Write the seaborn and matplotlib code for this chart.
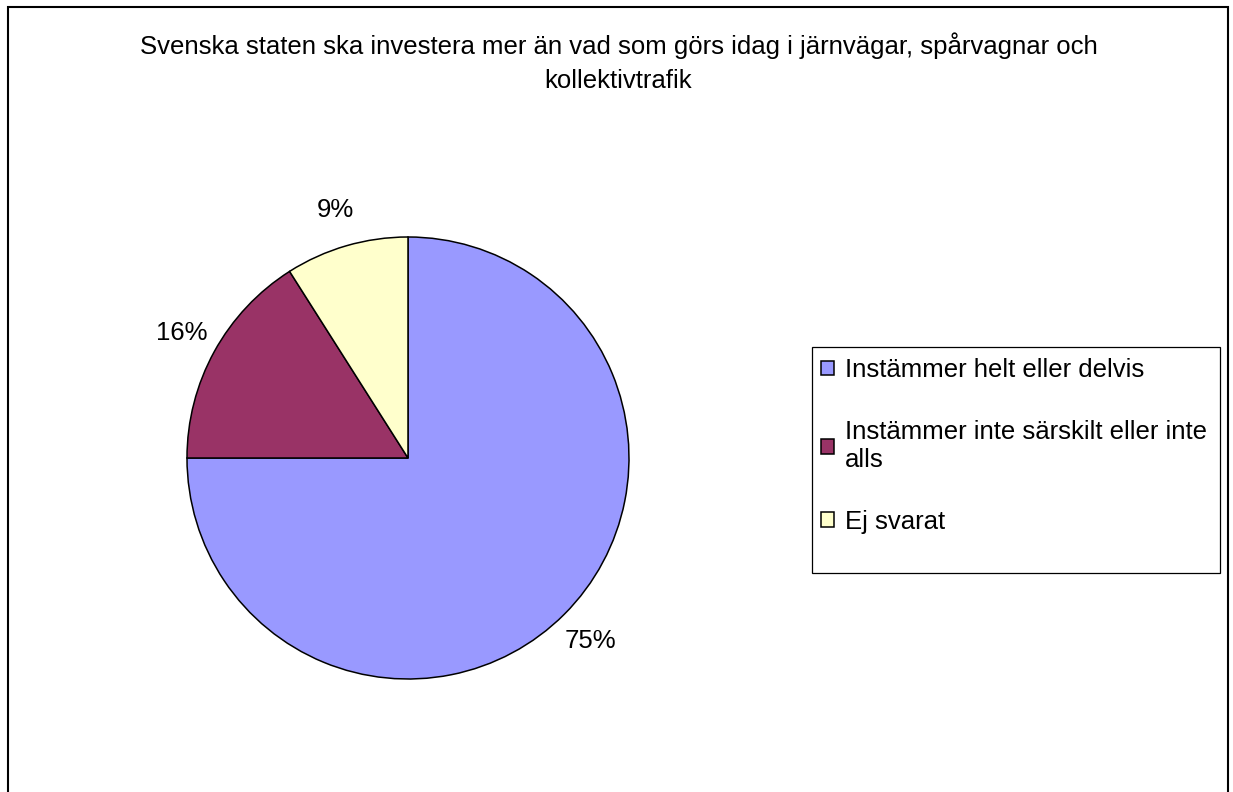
import matplotlib
matplotlib.use("Agg")
import matplotlib.pyplot as plt
from matplotlib.patches import Rectangle
import seaborn as sns

# Plot settings
sns.set_theme(style="white")
plt.rcParams['font.family'] = ['Liberation Sans', 'DejaVu Sans']
plt.rcParams['text.color'] = 'black'

# Data
title = "Svenska staten ska investera mer än vad som görs idag i järnvägar, spårvagnar och\nkollektivtrafik"
labels = ["Instämmer helt eller delvis",
          "Instämmer inte särskilt eller inte\nalls",
          "Ej svarat"]
shares = [75, 16, 9]
colors = ["#9999FF", "#993366", "#FFFFCC"]

W, H = 1233, 792
FS = 18.5
fig = plt.figure(figsize=(W / 100, H / 100), dpi=100)
fig.patch.set_facecolor("white")

# pie axes: centre (408, 458), radius 221 px
r = 221
ax = fig.add_axes([(408 - r) / W, 1 - (458 + r) / H, 2 * r / W, 2 * r / H])
wedges, _, autotexts = ax.pie(
    shares, colors=colors, startangle=90, counterclock=False,
    autopct='%.0f%%', pctdistance=1.17,
    wedgeprops=dict(edgecolor="black", linewidth=1.1),
    textprops=dict(fontsize=FS, color="black"),
)
ax.set_xlim(-1, 1)
ax.set_ylim(-1, 1)
ax.set_aspect("equal")
ax.axis("off")

# title
fig.text(618.5 / W, 1 - 32 / H, title, ha="center", va="top",
         fontsize=FS, linespacing=1.55, color="black")

# legend with its own box
leg = fig.legend(wedges, labels, loc="upper left",
                 bbox_to_anchor=(821 / W, 1 - 358 / H),
                 frameon=False, fontsize=FS, labelcolor="black",
                 handlelength=0.5, handleheight=0.5, handletextpad=0.43,
                 labelspacing=1.48, borderpad=0, borderaxespad=0)
for h in leg.legend_handles:
    h.set_edgecolor("black")
    h.set_linewidth(1.1)

fig.patches.append(Rectangle((812 / W, 1 - 573 / H), 408 / W, 226 / H,
                             transform=fig.transFigure, fill=False,
                             edgecolor="black", linewidth=0.9))
# outer chart border
fig.patches.append(Rectangle((8 / W, -0.02), 1220 / W, 1 - 7 / H + 0.02,
                             transform=fig.transFigure, fill=False,
                             edgecolor="black", linewidth=1.5))

fig.savefig("out.png", dpi=100)
